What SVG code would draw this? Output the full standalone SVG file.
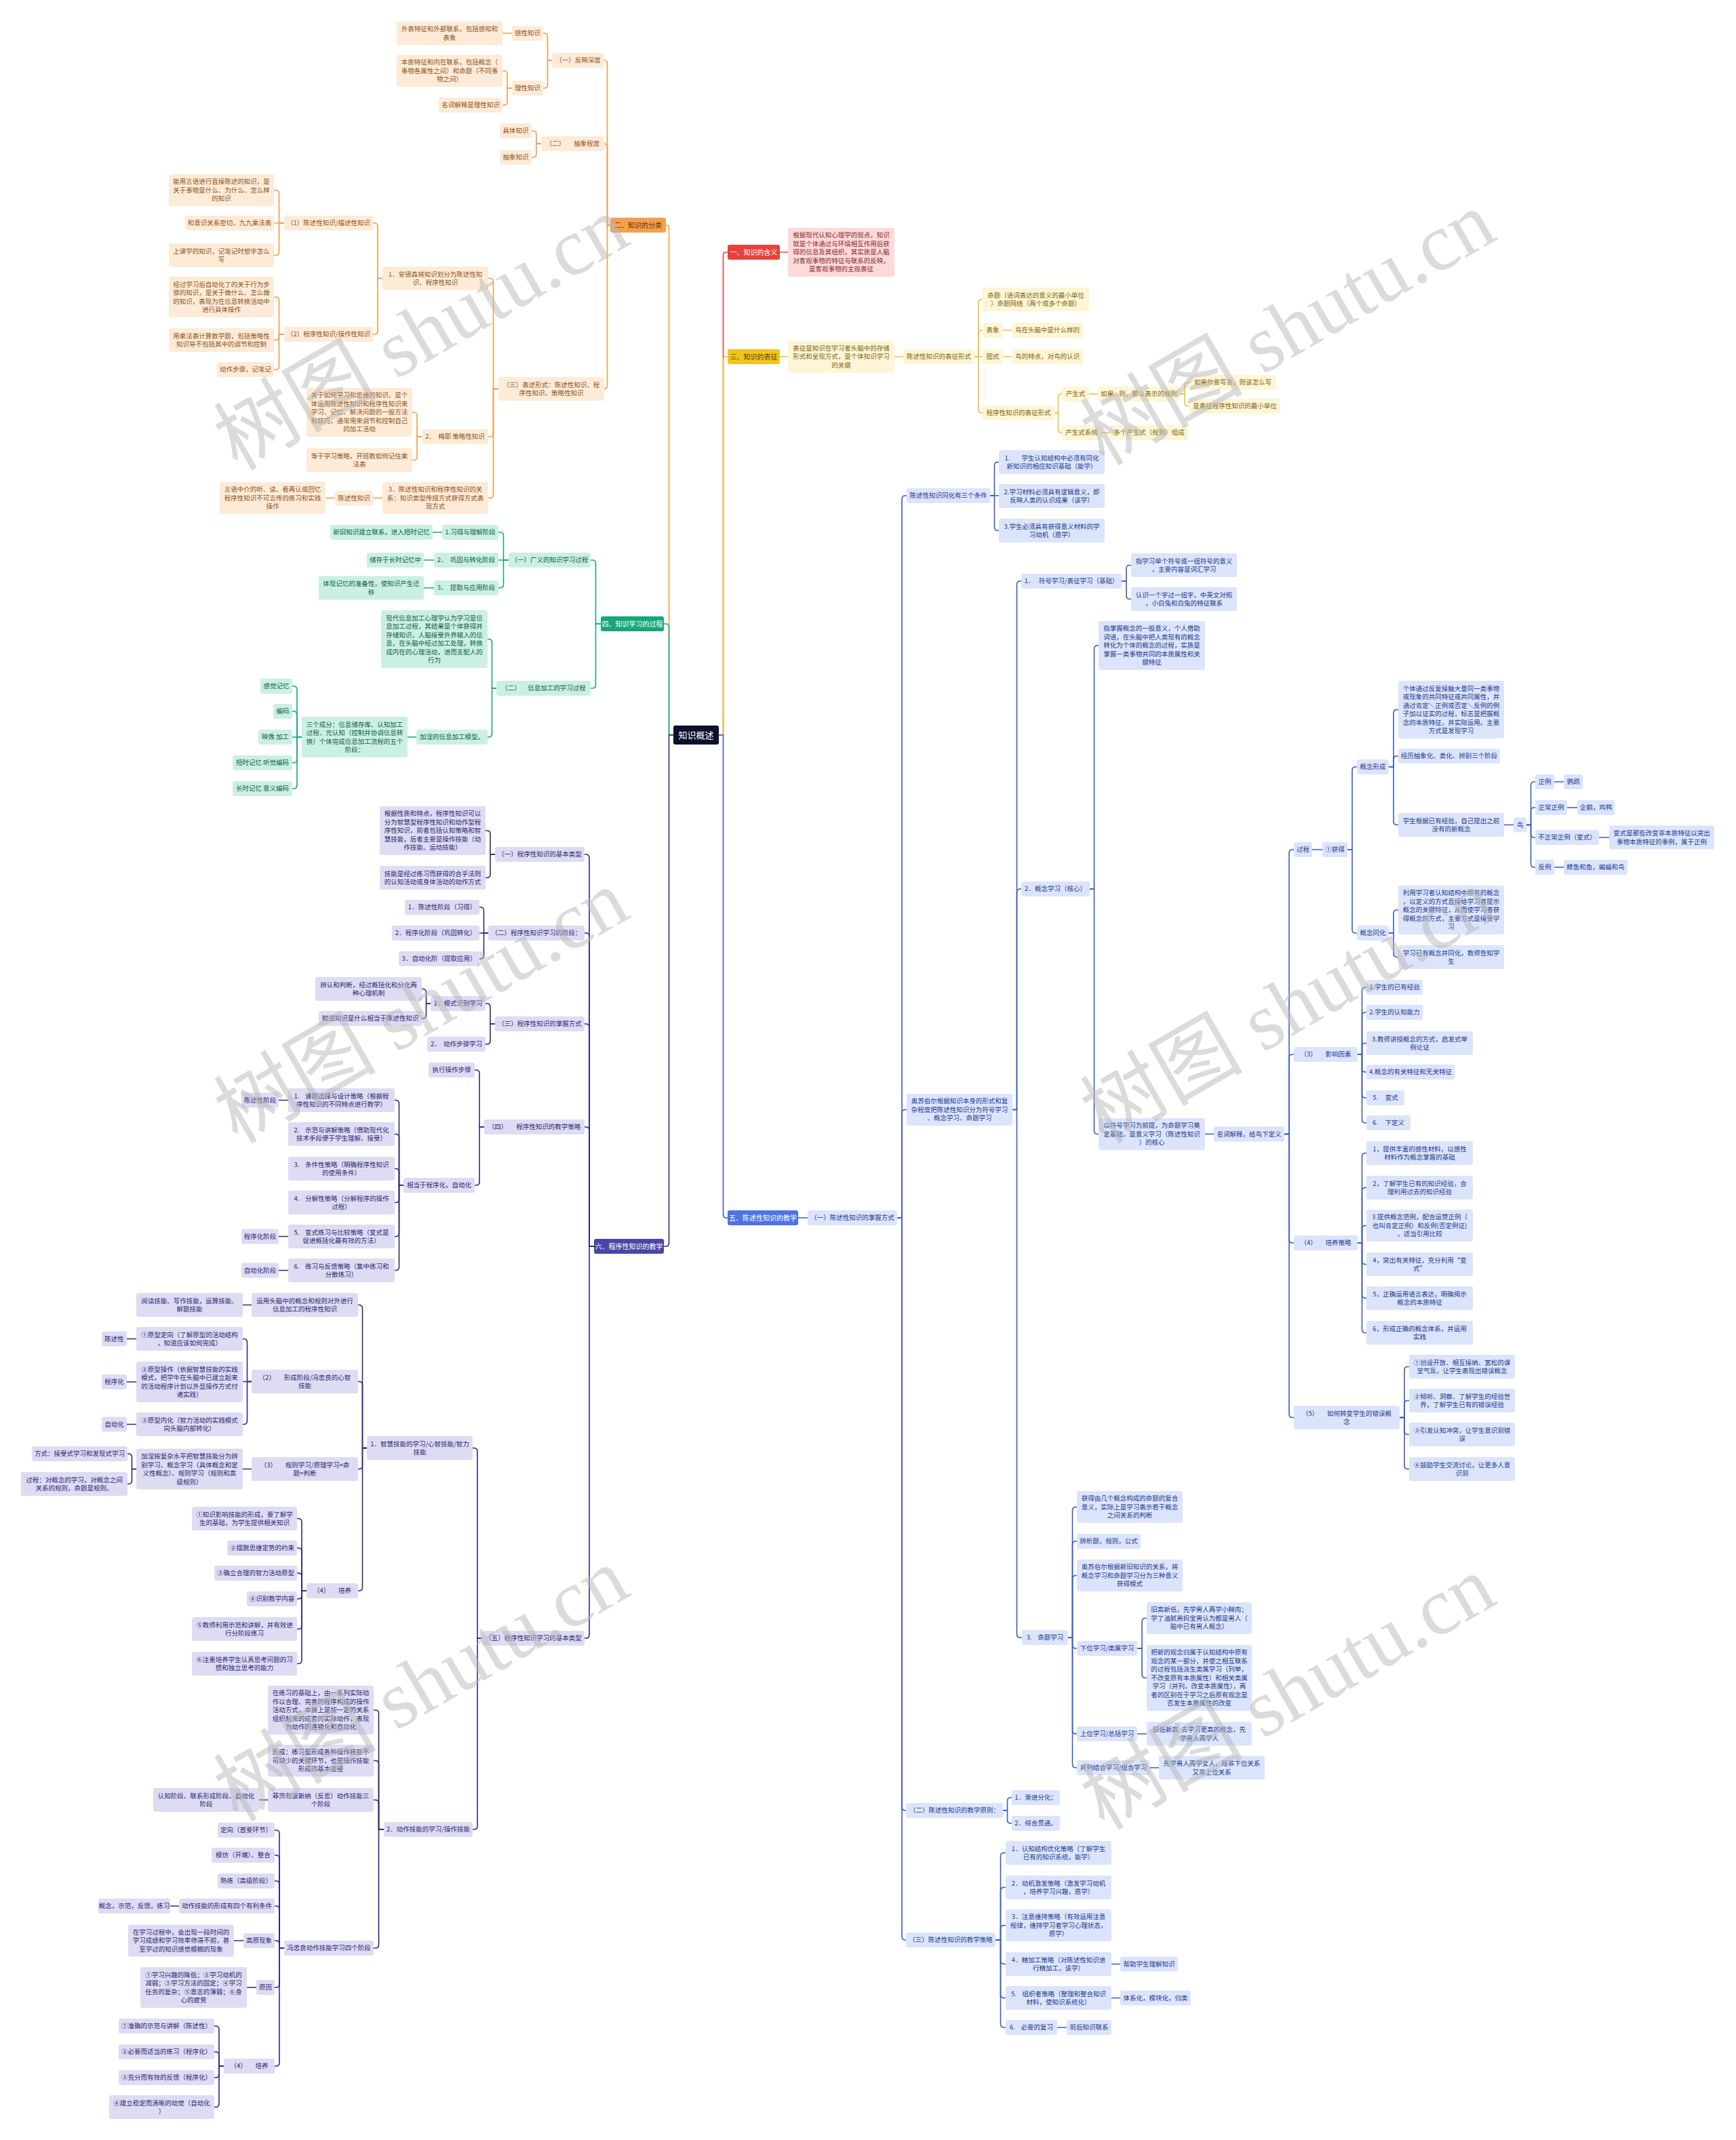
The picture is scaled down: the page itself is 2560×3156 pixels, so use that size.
<svg xmlns="http://www.w3.org/2000/svg" width="2560" height="3156" viewBox="0 0 2560 3156">
<style>
text{font-family:'Noto Sans CJK SC','Noto Sans',sans-serif;font-size:9.5px;text-anchor:middle}
rect{rx:3px;ry:3px}
#connectors path{fill:none;stroke-width:1.6;stroke-linecap:round;stroke-linejoin:round}
.lo path{stroke:#f19c45}.lg path{stroke:#1aa57b}.lr path{stroke:#e8413c}.ly path{stroke:#edc232}.lb path{stroke:#3a5cc8}.lp path{stroke:#2e2b7a}.lk path{stroke:#2e3a8a}
.o rect{fill:#fdebd8}.o text{fill:#8f5320}
.g rect{fill:#cbf0e1}.g text{fill:#0e6148}
.y rect{fill:#fdf5d6}.y text{fill:#806510}
.r rect{fill:#fdd9da}.r text{fill:#8b2a2a}
.b rect{fill:#dce4fb}.b text{fill:#213a8f}
.p rect{fill:#dddcf3}.p text{fill:#2c2872}
.m text{font-size:10px}
.mo rect{fill:#f5a04c}.mo text{fill:#5e2f06}
.mg rect{fill:#17a67a}.mg text{fill:#fff}
.mr rect{fill:#e8413c}.mr text{fill:#fff}
.my rect{fill:#f2c420}.my text{fill:#5a4500}
.mb rect{fill:#4d72e6}.mb text{fill:#fff}
.mp rect{fill:#4a45a6}.mp text{fill:#fff}
.root rect{fill:#0c0f2d}.root text{fill:#fff;font-size:13px}
.wm text{font-family:'Liberation Serif','Noto Sans CJK SC',serif;font-size:120px;text-anchor:start;fill:#b8b8b8;opacity:.5}
</style>
<rect x="0" y="0" width="2560" height="3156" style="fill:#fff;rx:0;ry:0"/>
<g id="connectors">
<g class="lk">
<path d="M993 1084 H986.5 V336.5 Q986.5 332 982 332" style="stroke:#f19c45"/>
<path d="M993 1084 H986.5 V924.5 Q986.5 920 982 920 H979" style="stroke:#1aa57b"/>
<path d="M993 1084 H986.5 V1833.5 Q986.5 1838 982 1838 H979" style="stroke:#2e2b7a"/>
<path d="M1060 1084 H1066.5 V376.5 Q1066.5 372 1071 372 H1073" style="stroke:#e8413c"/>
<path d="M1060 1084 H1066.5 V530.5 Q1066.5 526 1071 526 H1073" style="stroke:#edc232"/>
<path d="M1060 1084 H1066.5 V1791.5 Q1066.5 1796 1071 1796 H1073" style="stroke:#3a5cc8"/>
</g>
<g class="lo">
<path d="M900 332 H895.5 V94 Q895.5 89 891 89"/>
<path d="M900 332 H895.5 V217 Q895.5 212 891 212"/>
<path d="M900 332 H895.5 V568.5 Q895.5 573.5 891 573.5"/>
<path d="M814 89 H807.5 V54 Q807.5 49 802.5 49 H801"/>
<path d="M814 89 H807.5 V125 Q807.5 130 802.5 130 H801"/>
<path d="M755 49 H741"/>
<path d="M755 130 H748 V109.5 Q748 104.5 743 104.5 H741"/>
<path d="M755 130 H748 V150 Q748 155 743 155 H741"/>
<path d="M798 212 H791 V198 Q791 193 786 193 H784"/>
<path d="M798 212 H791 V227 Q791 232 786 232 H784"/>
<path d="M735 573.5 H727.5 V415.5 Q727.5 410.5 722.5 410.5 H720"/>
<path d="M735 573.5 H727.5 V639 Q727.5 644 722.5 644 H720"/>
<path d="M735 573.5 H727.5 V729.5 Q727.5 734.5 722.5 734.5 H720"/>
<path d="M564 410.5 H557 V334 Q557 329 552 329 H550"/>
<path d="M564 410.5 H557 V488 Q557 493 552 493 H550"/>
<path d="M419 329 H411.5 V285.5 Q411.5 280.5 406.5 280.5 H404"/>
<path d="M419 329 H404"/>
<path d="M419 329 H411.5 V371.5 Q411.5 376.5 406.5 376.5 H404"/>
<path d="M419 493 H411.5 V443 Q411.5 438 406.5 438 H404"/>
<path d="M419 493 H411.5 V496.5 Q411.5 501.5 406.5 501.5 H404"/>
<path d="M419 493 H411.5 V540 Q411.5 545 406.5 545 H404"/>
<path d="M622 644 H615 V613 Q615 608 610 608 H608"/>
<path d="M622 644 H615 V673.5 Q615 678.5 610 678.5 H608"/>
<path d="M564 734.5 H550"/>
<path d="M494 734.5 H480"/>
</g>
<g class="lg">
<path d="M886 920 H878.5 V831 Q878.5 826 873.5 826 H871"/>
<path d="M886 920 H878.5 V1010 Q878.5 1015 873.5 1015 H871"/>
<path d="M750 826 H742.5 V790 Q742.5 785 737.5 785 H735"/>
<path d="M750 826 H735"/>
<path d="M750 826 H742.5 V862 Q742.5 867 737.5 867 H735"/>
<path d="M652 785 H638"/>
<path d="M640 826 H625"/>
<path d="M640 867 H625"/>
<path d="M732 1015 H725.5 V947.5 Q725.5 942.5 720.5 942.5 H719"/>
<path d="M732 1015 H725.5 V1082 Q725.5 1087 720.5 1087 H719"/>
<path d="M614 1087 H601"/>
<path d="M445 1087 H438 V1017 Q438 1012 433 1012 H431"/>
<path d="M445 1087 H438 V1054 Q438 1049 433 1049 H431"/>
<path d="M445 1087 H431"/>
<path d="M445 1087 H438 V1120 Q438 1125 433 1125 H431"/>
<path d="M445 1087 H438 V1158 Q438 1163 433 1163 H431"/>
</g>
<g class="lr">
<path d="M1150 372 H1162"/>
</g>
<g class="ly">
<path d="M1150 526 H1162"/>
<path d="M1319 526 H1332"/>
<path d="M1437 526 H1443 V446.5 Q1443 441.5 1448 441.5 H1449"/>
<path d="M1437 526 H1443 V492 Q1443 487 1448 487 H1449"/>
<path d="M1437 526 H1449"/>
<path d="M1437 526 H1443 V604 Q1443 609 1448 609 H1449"/>
<path d="M1479 487 H1492"/>
<path d="M1479 526 H1492"/>
<path d="M1555 609 H1560.5 V586 Q1560.5 581 1565.5 581 H1566"/>
<path d="M1555 609 H1560.5 V633 Q1560.5 638 1565.5 638 H1566"/>
<path d="M1606 581 H1619"/>
<path d="M1740 581 H1747 V569 Q1747 564 1752 564 H1754"/>
<path d="M1740 581 H1747 V594 Q1747 599 1752 599 H1754"/>
<path d="M1624 638 H1637"/>
</g>
<g class="lp">
<path d="M876 1838 H869 V1265 Q869 1260 864 1260 H862"/>
<path d="M876 1838 H869 V1381 Q869 1376 864 1376 H862"/>
<path d="M876 1838 H869 V1515 Q869 1510 864 1510 H862"/>
<path d="M876 1838 H869 V1667 Q869 1662 864 1662 H862"/>
<path d="M876 1838 H869 V2411 Q869 2416 864 2416 H862"/>
<path d="M730 1260 H723 V1230 Q723 1225 718 1225 H716"/>
<path d="M730 1260 H723 V1289.5 Q723 1294.5 718 1294.5 H716"/>
<path d="M720 1376 H713.5 V1343 Q713.5 1338 708.5 1338 H707"/>
<path d="M720 1376 H707"/>
<path d="M720 1376 H713.5 V1409 Q713.5 1414 708.5 1414 H707"/>
<path d="M730 1510 H723 V1485 Q723 1480 718 1480 H716"/>
<path d="M730 1510 H723 V1535 Q723 1540 718 1540 H716"/>
<path d="M635 1480 H628.5 V1463.5 Q628.5 1458.5 623.5 1458.5 H622"/>
<path d="M635 1480 H628.5 V1497 Q628.5 1502 623.5 1502 H622"/>
<path d="M714 1662 H707 V1583 Q707 1578 702 1578 H700"/>
<path d="M714 1662 H707 V1743 Q707 1748 702 1748 H700"/>
<path d="M595 1748 H588.5 V1627.5 Q588.5 1622.5 583.5 1622.5 H582"/>
<path d="M595 1748 H588.5 V1677.5 Q588.5 1672.5 583.5 1672.5 H582"/>
<path d="M595 1748 H588.5 V1728.5 Q588.5 1723.5 583.5 1723.5 H582"/>
<path d="M595 1748 H588.5 V1768.5 Q588.5 1773.5 583.5 1773.5 H582"/>
<path d="M595 1748 H588.5 V1818.5 Q588.5 1823.5 583.5 1823.5 H582"/>
<path d="M595 1748 H588.5 V1868.5 Q588.5 1873.5 583.5 1873.5 H582"/>
<path d="M425 1622.5 H411"/>
<path d="M425 1823.5 H411"/>
<path d="M425 1873.5 H411"/>
<path d="M711 2416 H704 V2140.5 Q704 2135.5 699 2135.5 H697"/>
<path d="M711 2416 H704 V2693 Q704 2698 699 2698 H697"/>
<path d="M541 2135.5 H534.5 V1929.5 Q534.5 1924.5 529.5 1924.5 H528"/>
<path d="M541 2135.5 H534.5 V2042.5 Q534.5 2037.5 529.5 2037.5 H528"/>
<path d="M541 2135.5 H534.5 V2161.5 Q534.5 2166.5 529.5 2166.5 H528"/>
<path d="M541 2135.5 H534.5 V2341 Q534.5 2346 529.5 2346 H528"/>
<path d="M371 1924.5 H358"/>
<path d="M371 2037.5 H364.5 V1979.5 Q364.5 1974.5 359.5 1974.5 H358"/>
<path d="M371 2037.5 H358"/>
<path d="M371 2037.5 H364.5 V2095.5 Q364.5 2100.5 359.5 2100.5 H358"/>
<path d="M201 1974.5 H187"/>
<path d="M201 2038 H187"/>
<path d="M201 2100.5 H187"/>
<path d="M371 2166.5 H358"/>
<path d="M201 2166.5 H194.5 V2149 Q194.5 2144 189.5 2144 H188"/>
<path d="M201 2166.5 H194.5 V2183.5 Q194.5 2188.5 189.5 2188.5 H188"/>
<path d="M452 2346 H445 V2244.5 Q445 2239.5 440 2239.5 H438"/>
<path d="M452 2346 H445 V2288 Q445 2283 440 2283 H438"/>
<path d="M452 2346 H445 V2325 Q445 2320 440 2320 H438"/>
<path d="M452 2346 H445 V2353 Q445 2358 440 2358 H438"/>
<path d="M452 2346 H445 V2397.5 Q445 2402.5 440 2402.5 H438"/>
<path d="M452 2346 H445 V2448.5 Q445 2453.5 440 2453.5 H438"/>
<path d="M566 2698 H558.5 V2527 Q558.5 2522 553.5 2522 H551"/>
<path d="M566 2698 H558.5 V2601.5 Q558.5 2596.5 553.5 2596.5 H551"/>
<path d="M566 2698 H558.5 V2659.5 Q558.5 2654.5 553.5 2654.5 H551"/>
<path d="M566 2698 H558.5 V2868 Q558.5 2873 553.5 2873 H551"/>
<path d="M395 2654.5 H382"/>
<path d="M419 2873 H412 V2704 Q412 2699 407 2699 H405"/>
<path d="M419 2873 H412 V2741 Q412 2736 407 2736 H405"/>
<path d="M419 2873 H412 V2779 Q412 2774 407 2774 H405"/>
<path d="M419 2873 H412 V2816 Q412 2811 407 2811 H405"/>
<path d="M419 2873 H412 V2867 Q412 2862 407 2862 H405"/>
<path d="M419 2873 H412 V2926 Q412 2931 407 2931 H405"/>
<path d="M419 2873 H412 V3042 Q412 3047 407 3047 H405"/>
<path d="M264 2811 H251"/>
<path d="M359 2862 H345"/>
<path d="M378 2931 H364"/>
<path d="M330 3047 H323 V2993 Q323 2988 318 2988 H316"/>
<path d="M330 3047 H323 V3031 Q323 3026 318 3026 H316"/>
<path d="M330 3047 H323 V3059 Q323 3064 318 3064 H316"/>
<path d="M330 3047 H323 V3102.5 Q323 3107.5 318 3107.5 H316"/>
</g>
<g class="lb">
<path d="M1177 1796 H1191"/>
<path d="M1323 1796 H1330 V736 Q1330 731 1335 731 H1337"/>
<path d="M1323 1796 H1330 V1641.5 Q1330 1636.5 1335 1636.5 H1337"/>
<path d="M1323 1796 H1330 V2665 Q1330 2670 1335 2670 H1336"/>
<path d="M1323 1796 H1330 V2856 Q1330 2861 1335 2861 H1336"/>
<path d="M1460 731 H1466.5 V686.5 Q1466.5 681.5 1471.5 681.5 H1473"/>
<path d="M1460 731 H1473"/>
<path d="M1460 731 H1466.5 V777.5 Q1466.5 782.5 1471.5 782.5 H1473"/>
<path d="M1493 1636.5 H1499.5 V862 Q1499.5 857 1504.5 857 H1506"/>
<path d="M1493 1636.5 H1499.5 V1316 Q1499.5 1311 1504.5 1311 H1506"/>
<path d="M1493 1636.5 H1499.5 V2410 Q1499.5 2415 1504.5 2415 H1507"/>
<path d="M1654 857 H1661 V838.5 Q1661 833.5 1666 833.5 H1668"/>
<path d="M1654 857 H1661 V878.5 Q1661 883.5 1666 883.5 H1668"/>
<path d="M1607 1311 H1613.5 V957 Q1613.5 952 1618.5 952 H1620"/>
<path d="M1607 1311 H1613.5 V1667.5 Q1613.5 1672.5 1618.5 1672.5 H1620"/>
<path d="M1777 1672.5 H1790"/>
<path d="M1894 1672.5 H1901 V1258 Q1901 1253 1906 1253 H1908"/>
<path d="M1894 1672.5 H1901 V1560 Q1901 1555 1906 1555 H1908"/>
<path d="M1894 1672.5 H1901 V1828 Q1901 1833 1906 1833 H1908"/>
<path d="M1894 1672.5 H1901 V2085.5 Q1901 2090.5 1906 2090.5 H1908"/>
<path d="M1935 1253 H1950"/>
<path d="M1987 1253 H1994 V1136 Q1994 1131 1999 1131 H2001"/>
<path d="M1987 1253 H1994 V1371 Q1994 1376 1999 1376 H2001"/>
<path d="M2048 1131 H2055 V1051.5 Q2055 1046.5 2060 1046.5 H2062"/>
<path d="M2048 1131 H2055 V1120 Q2055 1115 2060 1115 H2062"/>
<path d="M2048 1131 H2055 V1211.5 Q2055 1216.5 2060 1216.5 H2062"/>
<path d="M2218 1216.5 H2232"/>
<path d="M2251 1216.5 H2257.5 V1158 Q2257.5 1153 2262.5 1153 H2264"/>
<path d="M2251 1216.5 H2257.5 V1196 Q2257.5 1191 2262.5 1191 H2264"/>
<path d="M2251 1216.5 H2257.5 V1230 Q2257.5 1235 2262.5 1235 H2264"/>
<path d="M2251 1216.5 H2257.5 V1274 Q2257.5 1279 2262.5 1279 H2264"/>
<path d="M2292 1153 H2306"/>
<path d="M2311 1191 H2326"/>
<path d="M2358 1235 H2373"/>
<path d="M2292 1279 H2306"/>
<path d="M2048 1376 H2055 V1347 Q2055 1342 2060 1342 H2062"/>
<path d="M2048 1376 H2055 V1406.5 Q2055 1411.5 2060 1411.5 H2062"/>
<path d="M2002 1555 H2008.5 V1461 Q2008.5 1456 2013.5 1456 H2015"/>
<path d="M2002 1555 H2008.5 V1498 Q2008.5 1493 2013.5 1493 H2015"/>
<path d="M2002 1555 H2008.5 V1543.5 Q2008.5 1538.5 2013.5 1538.5 H2015"/>
<path d="M2002 1555 H2008.5 V1576 Q2008.5 1581 2013.5 1581 H2015"/>
<path d="M2002 1555 H2008.5 V1614 Q2008.5 1619 2013.5 1619 H2015"/>
<path d="M2002 1555 H2008.5 V1651 Q2008.5 1656 2013.5 1656 H2015"/>
<path d="M2002 1833 H2008.5 V1705.5 Q2008.5 1700.5 2013.5 1700.5 H2015"/>
<path d="M2002 1833 H2008.5 V1756.5 Q2008.5 1751.5 2013.5 1751.5 H2015"/>
<path d="M2002 1833 H2008.5 V1812.5 Q2008.5 1807.5 2013.5 1807.5 H2015"/>
<path d="M2002 1833 H2008.5 V1859.5 Q2008.5 1864.5 2013.5 1864.5 H2015"/>
<path d="M2002 1833 H2008.5 V1909.5 Q2008.5 1914.5 2013.5 1914.5 H2015"/>
<path d="M2002 1833 H2008.5 V1960.5 Q2008.5 1965.5 2013.5 1965.5 H2015"/>
<path d="M2064 2090.5 H2071 V2020.5 Q2071 2015.5 2076 2015.5 H2078"/>
<path d="M2064 2090.5 H2071 V2070.5 Q2071 2065.5 2076 2065.5 H2078"/>
<path d="M2064 2090.5 H2071 V2110.5 Q2071 2115.5 2076 2115.5 H2078"/>
<path d="M2064 2090.5 H2071 V2161.5 Q2071 2166.5 2076 2166.5 H2078"/>
<path d="M1575 2415 H1581.5 V2227.5 Q1581.5 2222.5 1586.5 2222.5 H1588"/>
<path d="M1575 2415 H1581.5 V2278 Q1581.5 2273 1586.5 2273 H1588"/>
<path d="M1575 2415 H1581.5 V2328.5 Q1581.5 2323.5 1586.5 2323.5 H1588"/>
<path d="M1575 2415 H1581.5 V2426 Q1581.5 2431 1586.5 2431 H1588"/>
<path d="M1575 2415 H1581.5 V2552 Q1581.5 2557 1586.5 2557 H1588"/>
<path d="M1575 2415 H1581.5 V2602 Q1581.5 2607 1586.5 2607 H1588"/>
<path d="M1677 2431 H1684 V2391.5 Q1684 2386.5 1689 2386.5 H1691"/>
<path d="M1677 2431 H1684 V2469.5 Q1684 2474.5 1689 2474.5 H1691"/>
<path d="M1677 2557 H1691"/>
<path d="M1696 2607 H1709"/>
<path d="M1479 2670 H1485.5 V2656 Q1485.5 2651 1490.5 2651 H1492"/>
<path d="M1479 2670 H1485.5 V2684 Q1485.5 2689 1490.5 2689 H1492"/>
<path d="M1468 2861 H1475.5 V2737.5 Q1475.5 2732.5 1480.5 2732.5 H1483"/>
<path d="M1468 2861 H1475.5 V2788.5 Q1475.5 2783.5 1480.5 2783.5 H1483"/>
<path d="M1468 2861 H1475.5 V2844.5 Q1475.5 2839.5 1480.5 2839.5 H1483"/>
<path d="M1468 2861 H1475.5 V2891.5 Q1475.5 2896.5 1480.5 2896.5 H1483"/>
<path d="M1468 2861 H1475.5 V2941.5 Q1475.5 2946.5 1480.5 2946.5 H1483"/>
<path d="M1468 2861 H1475.5 V2985 Q1475.5 2990 1480.5 2990 H1483"/>
<path d="M1639 2896.5 H1652"/>
<path d="M1639 2946.5 H1652"/>
<path d="M1559 2990 H1573"/>
</g>
</g>

<g id="root" class="root"><rect x="993" y="1070" width="67" height="28"/><text x="1026.5" y="1088.6">知识概述</text></g>

<g id="branch-red">
<g id="r0" class="mr m"><rect x="1073" y="361" width="77" height="22"/><text x="1111.5" y="375.5">一、知识的含义</text></g>
<g id="r1" class="r"><rect x="1162" y="336" width="157" height="72"/><text x="1240.5" y="350.4">根据现代认知心理学的观点，知识<tspan x="1240.5" dy="12.5">就是个体通过与环境相互作用后获</tspan><tspan x="1240.5" dy="12.5">得的信息及其组织，其实质是人脑</tspan><tspan x="1240.5" dy="12.5">对客观事物的特征与联系的反映，</tspan><tspan x="1240.5" dy="12.5">是客观事物的主观表征</tspan></text></g>
</g>

<g id="branch-yellow">
<g id="y0" class="my m"><rect x="1073" y="515" width="77" height="22"/><text x="1111.5" y="529.5">三、知识的表征</text></g>
<g id="y1" class="y"><rect x="1162" y="502.5" width="157" height="47"/><text x="1240.5" y="516.9">表征是知识在学习者头脑中的存储<tspan x="1240.5" dy="12.5">形式和呈现方式，是个体知识学习</tspan><tspan x="1240.5" dy="12.5">的关键</tspan></text></g>
<g id="y2" class="y"><rect x="1332" y="515" width="105" height="22"/><text x="1384.5" y="529.4">陈述性知识的表征形式</text></g>
<g id="y3" class="y"><rect x="1449" y="424" width="157" height="35"/><text x="1527.5" y="438.65">命题（语词表达的意义的最小单位<tspan x="1527.5" dy="12.5">）命题网络（两个或多个命题）</tspan></text></g>
<g id="y4" class="y"><rect x="1449" y="476" width="30" height="22"/><text x="1464" y="490.4">表象</text></g>
<g id="y5" class="y"><rect x="1492" y="476" width="105" height="22"/><text x="1544.5" y="490.4">鸟在头脑中是什么样的</text></g>
<g id="y6" class="y"><rect x="1449" y="515" width="30" height="22"/><text x="1464" y="529.4">图式</text></g>
<g id="y7" class="y"><rect x="1492" y="515" width="105" height="22"/><text x="1544.5" y="529.4">鸟的特点，对鸟的认识</text></g>
<g id="y8" class="y"><rect x="1449" y="598" width="106" height="22"/><text x="1502" y="612.4">程序性知识的表征形式</text></g>
<g id="y9" class="y"><rect x="1566" y="570" width="40" height="22"/><text x="1586" y="584.4">产生式</text></g>
<g id="y10" class="y"><rect x="1619" y="570" width="121" height="22"/><text x="1679.5" y="584.4">如果...则，那么表示的规则</text></g>
<g id="y11" class="y"><rect x="1754" y="553" width="128" height="22"/><text x="1818" y="567.4">如果你要写去，则该怎么写</text></g>
<g id="y12" class="y"><rect x="1754" y="588" width="134" height="22"/><text x="1821" y="602.4">是表征程序性知识的最小单位</text></g>
<g id="y13" class="y"><rect x="1566" y="627" width="58" height="22"/><text x="1595" y="641.4">产生式系统</text></g>
<g id="y14" class="y"><rect x="1637" y="627" width="115" height="22"/><text x="1694.5" y="641.4">多个产生式（规则）组成</text></g>
</g>

<g id="branch-orange">
<g id="o0" class="mo m"><rect x="900" y="321" width="82" height="22"/><text x="941" y="335.5">二、知识的分类</text></g>
<g id="o1" class="o"><rect x="814" y="78" width="77" height="22"/><text x="852.5" y="92.4">（一）反映深度</text></g>
<g id="o2" class="o"><rect x="755" y="38" width="46" height="22"/><text x="778" y="52.4">感性知识</text></g>
<g id="o3" class="o"><rect x="585" y="31.5" width="156" height="35"/><text x="663" y="46.15">外表特征和外部联系，包括感知和<tspan x="663" dy="12.5">表象</tspan></text></g>
<g id="o4" class="o"><rect x="755" y="119" width="46" height="22"/><text x="778" y="133.4">理性知识</text></g>
<g id="o5" class="o"><rect x="585" y="81" width="156" height="47"/><text x="663" y="95.4">本质特征和内在联系，包括概念（<tspan x="663" dy="12.5">事物各属性之间）和命题（不同事</tspan><tspan x="663" dy="12.5">物之间）</tspan></text></g>
<g id="o6" class="o"><rect x="647" y="144" width="94" height="22"/><text x="694" y="158.4">名词解释是理性知识</text></g>
<g id="o7" class="o"><rect x="798" y="201" width="93" height="22"/><text x="844.5" y="215.4">（二）&#160;&#160;&#160;&#160;&#160;&#160;抽象程度</text></g>
<g id="o8" class="o"><rect x="737" y="182" width="47" height="22"/><text x="760.5" y="196.4">具体知识</text></g>
<g id="o9" class="o"><rect x="737" y="221" width="47" height="22"/><text x="760.5" y="235.4">抽象知识</text></g>
<g id="o10" class="o"><rect x="735" y="556" width="156" height="35"/><text x="813" y="570.65">（三）表述形式：陈述性知识、程<tspan x="813" dy="12.5">序性知识、策略性知识</tspan></text></g>
<g id="o11" class="o"><rect x="564" y="393" width="156" height="35"/><text x="642" y="407.65">1．安德森将知识划分为陈述性知<tspan x="642" dy="12.5">识、程序性知识</tspan></text></g>
<g id="o12" class="o"><rect x="419" y="318" width="131" height="22"/><text x="484.5" y="332.4">（1）陈述性知识/描述性知识</text></g>
<g id="o13" class="o"><rect x="249" y="257" width="155" height="47"/><text x="326.5" y="271.4">能用言语进行直接陈述的知识，是<tspan x="326.5" dy="12.5">关于事物是什么、为什么、怎么样</tspan><tspan x="326.5" dy="12.5">的知识</tspan></text></g>
<g id="o14" class="o"><rect x="273" y="318" width="131" height="22"/><text x="338.5" y="332.4">和意识关系密切，九九乘法表</text></g>
<g id="o15" class="o"><rect x="249" y="359" width="155" height="35"/><text x="326.5" y="373.65">上课学的知识，记笔记时想字怎么<tspan x="326.5" dy="12.5">写</tspan></text></g>
<g id="o16" class="o"><rect x="419" y="482" width="131" height="22"/><text x="484.5" y="496.4">（2）程序性知识/操作性知识</text></g>
<g id="o17" class="o"><rect x="249" y="408" width="155" height="60"/><text x="326.5" y="422.65">经过学习后自动化了的关于行为步<tspan x="326.5" dy="12.5">骤的知识，是关于做什么、怎么做</tspan><tspan x="326.5" dy="12.5">的知识，表现为在信息转换活动中</tspan><tspan x="326.5" dy="12.5">进行具体操作</tspan></text></g>
<g id="o18" class="o"><rect x="249" y="484" width="155" height="35"/><text x="326.5" y="498.65">用乘法表计算数学题，包括策略性<tspan x="326.5" dy="12.5">知识导不包括其中的调节和控制</tspan></text></g>
<g id="o19" class="o"><rect x="320" y="534" width="84" height="22"/><text x="362" y="548.4">动作步骤，记笔记</text></g>
<g id="o20" class="o"><rect x="622" y="633" width="98" height="22"/><text x="671" y="647.4">2．&#160;&#160;梅耶 策略性知识</text></g>
<g id="o21" class="o"><rect x="452" y="572" width="156" height="72"/><text x="530" y="586.4">关于如何学习和思维的知识，是个<tspan x="530" dy="12.5">体运用陈述性知识和程序性知识来</tspan><tspan x="530" dy="12.5">学习、记忆、解决问题的一般方法</tspan><tspan x="530" dy="12.5">和技巧，通常用来调节和控制自己</tspan><tspan x="530" dy="12.5">的加工活动</tspan></text></g>
<g id="o22" class="o"><rect x="452" y="661" width="156" height="35"/><text x="530" y="675.65">等于学习策略，开班教如何记住乘<tspan x="530" dy="12.5">法表</tspan></text></g>
<g id="o23" class="o"><rect x="564" y="711" width="156" height="47"/><text x="642" y="725.4">3．陈述性知识和程序性知识的关<tspan x="642" dy="12.5">系：知识类型传授方式获得方式表</tspan><tspan x="642" dy="12.5">现方式</tspan></text></g>
<g id="o24" class="o"><rect x="494" y="723.5" width="56" height="22"/><text x="522" y="737.9">陈述性知识</text></g>
<g id="o25" class="o"><rect x="324" y="711" width="156" height="47"/><text x="402" y="725.4">言语中介的听、读、看再认或回忆<tspan x="402" dy="12.5">程序性知识不可言传的练习和实践</tspan><tspan x="402" dy="12.5">操作</tspan></text></g>
</g>

<g id="branch-green">
<g id="g0" class="mg m"><rect x="886" y="909" width="93" height="22"/><text x="932.5" y="923.5">四、知识学习的过程</text></g>
<g id="g1" class="g"><rect x="750" y="815" width="121" height="22"/><text x="810.5" y="829.4">（一）广义的知识学习过程</text></g>
<g id="g2" class="g"><rect x="652" y="774" width="83" height="22"/><text x="693.5" y="788.4">1.习得与理解阶段</text></g>
<g id="g3" class="g"><rect x="487" y="774" width="151" height="22"/><text x="562.5" y="788.4">新旧知识建立联系，进入短时记忆</text></g>
<g id="g4" class="g"><rect x="640" y="815" width="95" height="22"/><text x="687.5" y="829.4">2．&#160;&#160;巩固与转化阶段</text></g>
<g id="g5" class="g"><rect x="541" y="815" width="84" height="22"/><text x="583" y="829.4">储存于长时记忆中</text></g>
<g id="g6" class="g"><rect x="640" y="856" width="95" height="22"/><text x="687.5" y="870.4">3．&#160;&#160;提取与应用阶段</text></g>
<g id="g7" class="g"><rect x="470" y="849.5" width="155" height="35"/><text x="547.5" y="864.15">体现记忆的准备性，使知识产生迁<tspan x="547.5" dy="12.5">移</tspan></text></g>
<g id="g8" class="g"><rect x="732" y="1004" width="139" height="22"/><text x="801.5" y="1018.4">（二）&#160;&#160;&#160;&#160;&#160;信息加工的学习过程</text></g>
<g id="g9" class="g"><rect x="562" y="900" width="157" height="85"/><text x="640.5" y="914.65">现代信息加工心理学认为学习是信<tspan x="640.5" dy="12.5">息加工过程，其结果是个体获得并</tspan><tspan x="640.5" dy="12.5">存储知识，人脑接受外界输入的信</tspan><tspan x="640.5" dy="12.5">息，在头脑中经过加工处理，转换</tspan><tspan x="640.5" dy="12.5">成内在的心理活动，进而支配人的</tspan><tspan x="640.5" dy="12.5">行为</tspan></text></g>
<g id="g10" class="g"><rect x="614" y="1076" width="105" height="22"/><text x="666.5" y="1090.4">加涅的信息加工模型。</text></g>
<g id="g11" class="g"><rect x="445" y="1057" width="156" height="60"/><text x="523" y="1071.65">三个成分：信息储存库、认知加工<tspan x="523" dy="12.5">过程、元认知（控制并协调信息转</tspan><tspan x="523" dy="12.5">换）个体完成信息加工流程的五个</tspan><tspan x="523" dy="12.5">阶段：</tspan></text></g>
<g id="g12" class="g"><rect x="384" y="1001" width="47" height="22"/><text x="407.5" y="1015.4">感觉记忆</text></g>
<g id="g13" class="g"><rect x="403" y="1038" width="28" height="22"/><text x="417" y="1052.4">编码</text></g>
<g id="g14" class="g"><rect x="381" y="1076" width="50" height="22"/><text x="406" y="1090.4">映像 加工</text></g>
<g id="g15" class="g"><rect x="343" y="1114" width="88" height="22"/><text x="387" y="1128.4">短时记忆 听觉编码</text></g>
<g id="g16" class="g"><rect x="343" y="1152" width="88" height="22"/><text x="387" y="1166.4">长时记忆 意义编码</text></g>
</g>

<g id="branch-purple">
<g id="p0" class="mp m"><rect x="876" y="1827" width="103" height="22"/><text x="927.5" y="1841.5">六、程序性知识的教学</text></g>
<g id="p1" class="p"><rect x="730" y="1249" width="132" height="22"/><text x="796" y="1263.4">（一）程序性知识的基本类型</text></g>
<g id="p1a" class="p"><rect x="560" y="1189" width="156" height="72"/><text x="638" y="1203.4">根据性质和特点，程序性知识可以<tspan x="638" dy="12.5">分为智慧型程序性知识和动作型程</tspan><tspan x="638" dy="12.5">序性知识，前者包括认知策略和智</tspan><tspan x="638" dy="12.5">慧技能，后者主要是操作技能（动</tspan><tspan x="638" dy="12.5">作技能、运动技能）</tspan></text></g>
<g id="p1b" class="p"><rect x="560" y="1277" width="156" height="35"/><text x="638" y="1291.65">技能是经过练习而获得的合乎法则<tspan x="638" dy="12.5">的认知活动或身体活动的动作方式</tspan></text></g>
<g id="p2" class="p"><rect x="720" y="1365" width="142" height="22"/><text x="791" y="1379.4">（二）程序性知识学习的阶段：</text></g>
<g id="p2a" class="p"><rect x="597" y="1327" width="110" height="22"/><text x="652" y="1341.4">1．陈述性阶段（习得）</text></g>
<g id="p2b" class="p"><rect x="578" y="1365" width="129" height="22"/><text x="642.5" y="1379.4">2．程序化阶段（巩固转化）</text></g>
<g id="p2c" class="p"><rect x="588" y="1403" width="119" height="22"/><text x="647.5" y="1417.4">3．自动化阶（提取应用）</text></g>
<g id="p3" class="p"><rect x="730" y="1499" width="132" height="22"/><text x="796" y="1513.4">（三）程序性知识的掌握方式</text></g>
<g id="p3a" class="p"><rect x="635" y="1469" width="81" height="22"/><text x="675.5" y="1483.4">1．模式识别学习</text></g>
<g id="p3a1" class="p"><rect x="465" y="1441" width="157" height="35"/><text x="543.5" y="1455.65">辨认和判断，经过概括化和分化两<tspan x="543.5" dy="12.5">种心理机制</tspan></text></g>
<g id="p3a2" class="p"><rect x="470" y="1491" width="152" height="22"/><text x="546" y="1505.4">知道知识是什么相当于陈述性知识</text></g>
<g id="p3b" class="p"><rect x="630" y="1529" width="86" height="22"/><text x="673" y="1543.4">2．&#160;&#160;动作步骤学习</text></g>
<g id="p4" class="p"><rect x="714" y="1651" width="148" height="22"/><text x="788" y="1665.4">（四）&#160;&#160;&#160;&#160;&#160;&#160;程序性知识的教学策略</text></g>
<g id="p4a" class="p"><rect x="632" y="1567" width="68" height="22"/><text x="666" y="1581.4">执行操作步骤</text></g>
<g id="p4b" class="p"><rect x="595" y="1737" width="105" height="22"/><text x="647.5" y="1751.4">相当于程序化，自动化</text></g>
<g id="p4b1" class="p"><rect x="425" y="1605" width="157" height="35"/><text x="503.5" y="1619.65">1.&#160;&#160;&#160;&#160;课题选择与设计策略（根据程<tspan x="503.5" dy="12.5">序性知识的不同特点进行教学）</tspan></text></g>
<g id="p4b2" class="p"><rect x="425" y="1655" width="157" height="35"/><text x="503.5" y="1669.65">2.&#160;&#160;&#160;&#160;示范与讲解策略（借助现代化<tspan x="503.5" dy="12.5">技术手段便于学生理解、接受）</tspan></text></g>
<g id="p4b3" class="p"><rect x="425" y="1706" width="157" height="35"/><text x="503.5" y="1720.65">3.&#160;&#160;&#160;&#160;条件性策略（明确程序性知识<tspan x="503.5" dy="12.5">的使用条件）</tspan></text></g>
<g id="p4b4" class="p"><rect x="425" y="1756" width="157" height="35"/><text x="503.5" y="1770.65">4.&#160;&#160;&#160;&#160;分解性策略（分解程序的操作<tspan x="503.5" dy="12.5">过程）</tspan></text></g>
<g id="p4b5" class="p"><rect x="425" y="1806" width="157" height="35"/><text x="503.5" y="1820.65">5.&#160;&#160;&#160;&#160;变式练习与比较策略（变式是<tspan x="503.5" dy="12.5">促进概括化最有效的方法）</tspan></text></g>
<g id="p4b6" class="p"><rect x="425" y="1856" width="157" height="35"/><text x="503.5" y="1870.65">6.&#160;&#160;&#160;&#160;练习与反馈策略（集中练习和<tspan x="503.5" dy="12.5">分散练习）</tspan></text></g>
<g id="p4l1" class="p"><rect x="356" y="1611.5" width="55" height="22"/><text x="383.5" y="1625.9">陈述性阶段</text></g>
<g id="p4l2" class="p"><rect x="356" y="1812.5" width="55" height="22"/><text x="383.5" y="1826.9">程序化阶段</text></g>
<g id="p4l3" class="p"><rect x="356" y="1862.5" width="55" height="22"/><text x="383.5" y="1876.9">自动化阶段</text></g>
<g id="p5" class="p"><rect x="711" y="2405" width="151" height="22"/><text x="786.5" y="2419.4">（五）程序性知识学习的基本类型</text></g>
<g id="p5a" class="p"><rect x="541" y="2118" width="156" height="35"/><text x="619" y="2132.65">1．智慧技能的学习/心智技能/智力<tspan x="619" dy="12.5">技能</tspan></text></g>
<g id="p5a1" class="p"><rect x="371" y="1907" width="157" height="35"/><text x="449.5" y="1921.65">运用头脑中的概念和规则对外进行<tspan x="449.5" dy="12.5">信息加工的程序性知识</tspan></text></g>
<g id="p5a1l" class="p"><rect x="201" y="1907" width="157" height="35"/><text x="279.5" y="1921.65">阅读技能、写作技能，运算技能、<tspan x="279.5" dy="12.5">解题技能</tspan></text></g>
<g id="p5a2" class="p"><rect x="371" y="2020" width="157" height="35"/><text x="449.5" y="2034.65">（2）&#160;&#160;&#160;&#160;&#160;&#160;形成阶段/冯忠良的心智<tspan x="449.5" dy="12.5">技能</tspan></text></g>
<g id="p5a2a" class="p"><rect x="201" y="1957" width="157" height="35"/><text x="279.5" y="1971.65">①原型定向（了解原型的活动结构<tspan x="279.5" dy="12.5">，知道应该如何完成）</tspan></text></g>
<g id="p5a2b" class="p"><rect x="201" y="2008" width="157" height="60"/><text x="279.5" y="2022.65">②原型操作（依据智慧技能的实践<tspan x="279.5" dy="12.5">模式，把学牛在头脑中已建立起来</tspan><tspan x="279.5" dy="12.5">的活动程序计划以外显操作方式付</tspan><tspan x="279.5" dy="12.5">诸实践）</tspan></text></g>
<g id="p5a2c" class="p"><rect x="201" y="2083" width="157" height="35"/><text x="279.5" y="2097.65">③原型内化（智力活动的实践模式<tspan x="279.5" dy="12.5">向头脑内部转化）</tspan></text></g>
<g id="p5a2l1" class="p"><rect x="150" y="1963.5" width="37" height="22"/><text x="168.5" y="1977.9">陈述性</text></g>
<g id="p5a2l2" class="p"><rect x="150" y="2027" width="37" height="22"/><text x="168.5" y="2041.4">程序化</text></g>
<g id="p5a2l3" class="p"><rect x="150" y="2089.5" width="37" height="22"/><text x="168.5" y="2103.9">自动化</text></g>
<g id="p5a3" class="p"><rect x="371" y="2149" width="157" height="35"/><text x="449.5" y="2163.65">（3）&#160;&#160;&#160;&#160;&#160;&#160;规则学习/原理学习=命<tspan x="449.5" dy="12.5">题=判断</tspan></text></g>
<g id="p5a3a" class="p"><rect x="201" y="2136.5" width="157" height="60"/><text x="279.5" y="2151.15">加涅按复杂水平把智慧技能分为辨<tspan x="279.5" dy="12.5">别学习、概念学习（具体概念和定</tspan><tspan x="279.5" dy="12.5">义性概念）、规则学习（规则和高</tspan><tspan x="279.5" dy="12.5">级规则）</tspan></text></g>
<g id="p5a3b" class="p"><rect x="47" y="2133" width="141" height="22"/><text x="117.5" y="2147.4">方式：接受式学习和发现式学习</text></g>
<g id="p5a3c" class="p"><rect x="31" y="2171" width="157" height="35"/><text x="109.5" y="2185.65">过程：对概念的学习，对概念之间<tspan x="109.5" dy="12.5">关系的规则，命题是规则。</tspan></text></g>
<g id="p5a4" class="p"><rect x="452" y="2335" width="76" height="22"/><text x="490" y="2349.4">（4）&#160;&#160;&#160;&#160;&#160;&#160;培养</text></g>
<g id="p5a4a" class="p"><rect x="283" y="2222" width="155" height="35"/><text x="360.5" y="2236.65">①知识影响技能的形成，要了解学<tspan x="360.5" dy="12.5">生的基础，为学生提供相关知识</tspan></text></g>
<g id="p5a4b" class="p"><rect x="335" y="2272" width="103" height="22"/><text x="386.5" y="2286.4">②摆脱思维定势的约束</text></g>
<g id="p5a4c" class="p"><rect x="316" y="2309" width="122" height="22"/><text x="377" y="2323.4">③确立合理的智力活动原型</text></g>
<g id="p5a4d" class="p"><rect x="364" y="2347" width="74" height="22"/><text x="401" y="2361.4">④识别教学内容</text></g>
<g id="p5a4e" class="p"><rect x="283" y="2385" width="155" height="35"/><text x="360.5" y="2399.65">⑤教师利用示范和讲解，并有效进<tspan x="360.5" dy="12.5">行分阶段练习</tspan></text></g>
<g id="p5a4f" class="p"><rect x="283" y="2436" width="155" height="35"/><text x="360.5" y="2450.65">⑥注重培养学生认真思考问题的习<tspan x="360.5" dy="12.5">惯和独立思考的能力</tspan></text></g>
<g id="p5b" class="p"><rect x="566" y="2687" width="131" height="22"/><text x="631.5" y="2701.4">2．动作技能的学习/操作技能</text></g>
<g id="p5b1" class="p"><rect x="395" y="2486" width="156" height="72"/><text x="473" y="2500.4">在练习的基础上，由一系列实际动<tspan x="473" dy="12.5">作以合理、完善的程序构成的操作</tspan><tspan x="473" dy="12.5">活动方式，本质上是按一定的关系</tspan><tspan x="473" dy="12.5">组织起来的成套的实际动作，表现</tspan><tspan x="473" dy="12.5">为动作的连锁化和自动化</tspan></text></g>
<g id="p5b2" class="p"><rect x="395" y="2573" width="156" height="47"/><text x="473" y="2587.4">形成：练习是形成各种操作技能不<tspan x="473" dy="12.5">可缺少的关键环节，也是操作技能</tspan><tspan x="473" dy="12.5">形成的基本途径</tspan></text></g>
<g id="p5b3" class="p"><rect x="395" y="2637" width="156" height="35"/><text x="473" y="2651.65">菲茨和波斯纳（反思）动作技能三<tspan x="473" dy="12.5">个阶段</tspan></text></g>
<g id="p5b3l" class="p"><rect x="226" y="2637" width="156" height="35"/><text x="304" y="2651.65">认知阶段、联系形成阶段、自动化<tspan x="304" dy="12.5">阶段</tspan></text></g>
<g id="p5b4" class="p"><rect x="419" y="2862" width="132" height="22"/><text x="485" y="2876.4">冯忠良动作技能学习四个阶段</text></g>
<g id="p5b4a" class="p"><rect x="321" y="2688" width="84" height="22"/><text x="363" y="2702.4">定向（首要环节）</text></g>
<g id="p5b4b" class="p"><rect x="312" y="2725" width="93" height="22"/><text x="358.5" y="2739.4">模仿（开端）、整合</text></g>
<g id="p5b4c" class="p"><rect x="321" y="2763" width="84" height="22"/><text x="363" y="2777.4">熟练（高级阶段）</text></g>
<g id="p5b4d" class="p"><rect x="264" y="2800" width="141" height="22"/><text x="334.5" y="2814.4">动作技能的形成有四个有利条件</text></g>
<g id="p5b4d1" class="p"><rect x="145" y="2800" width="106" height="22"/><text x="198" y="2814.4">概念，示范，反馈，练习</text></g>
<g id="p5b4e" class="p"><rect x="359" y="2851" width="46" height="22"/><text x="382" y="2865.4">高原现象</text></g>
<g id="p5b4e1" class="p"><rect x="189" y="2838.5" width="156" height="47"/><text x="267" y="2852.9">在学习过程中，会出现一段时间的<tspan x="267" dy="12.5">学习成绩和学习效率停滞不前，甚</tspan><tspan x="267" dy="12.5">至学过的知识感觉模糊的现象</tspan></text></g>
<g id="p5b4f" class="p"><rect x="378" y="2920" width="27" height="22"/><text x="391.5" y="2934.4">原因</text></g>
<g id="p5b4f1" class="p"><rect x="207" y="2901" width="157" height="60"/><text x="285.5" y="2915.65">①学习兴趣的降低；②学习动机的<tspan x="285.5" dy="12.5">减弱；③学习方法的固定；④学习</tspan><tspan x="285.5" dy="12.5">任务的复杂；⑤意志的薄弱；⑥身</tspan><tspan x="285.5" dy="12.5">心的疲劳</tspan></text></g>
<g id="p5b4g" class="p"><rect x="330" y="3036" width="75" height="22"/><text x="367.5" y="3050.4">（4）&#160;&#160;&#160;&#160;&#160;&#160;培养</text></g>
<g id="p5b4g1" class="p"><rect x="175" y="2977" width="141" height="22"/><text x="245.5" y="2991.4">①准确的示范与讲解（陈述性）</text></g>
<g id="p5b4g2" class="p"><rect x="175" y="3015" width="141" height="22"/><text x="245.5" y="3029.4">②必要而适当的练习（程序化）</text></g>
<g id="p5b4g3" class="p"><rect x="175" y="3053" width="141" height="22"/><text x="245.5" y="3067.4">③充分而有效的反馈（程序化）</text></g>
<g id="p5b4g4" class="p"><rect x="161" y="3090" width="155" height="35"/><text x="238.5" y="3104.65">④建立稳定而清晰的动觉（自动化<tspan x="238.5" dy="12.5">）</tspan></text></g>
</g>

<g id="branch-blue">
<g id="b0" class="mb m"><rect x="1073" y="1785" width="104" height="22"/><text x="1125" y="1799.5">五、陈述性知识的教学</text></g>
<g id="b1" class="b"><rect x="1191" y="1785" width="132" height="22"/><text x="1257" y="1799.4">（一）陈述性知识的掌握方式</text></g>
<g id="b2" class="b"><rect x="1337" y="720" width="123" height="22"/><text x="1398.5" y="734.4">陈述性知识同化有三个条件</text></g>
<g id="b2a" class="b"><rect x="1473" y="664" width="156" height="35"/><text x="1551" y="678.65">1.&#160;&#160;&#160;&#160;&#160;&#160;&#160;&#160;学生认知结构中必须有同化<tspan x="1551" dy="12.5">新知识的相应知识基础（能学）</tspan></text></g>
<g id="b2b" class="b"><rect x="1473" y="714" width="156" height="35"/><text x="1551" y="728.65">2.学习材料必须具有逻辑意义，即<tspan x="1551" dy="12.5">反映人类的认识成果（该学）</tspan></text></g>
<g id="b2c" class="b"><rect x="1473" y="765" width="156" height="35"/><text x="1551" y="779.65">3.学生必须具有获得意义材料的学<tspan x="1551" dy="12.5">习动机（愿学）</tspan></text></g>
<g id="b3" class="b"><rect x="1337" y="1613" width="156" height="47"/><text x="1415" y="1627.4">奥苏伯尔根据知识本身的形式和复<tspan x="1415" dy="12.5">杂程度把陈述性知识分为符号学习</tspan><tspan x="1415" dy="12.5">、概念学习、命题学习</tspan></text></g>
<g id="b3a" class="b"><rect x="1506" y="846" width="148" height="22"/><text x="1580" y="860.4">1．&#160;&#160;&#160;符号学习/表征学习（基础）</text></g>
<g id="b3a1" class="b"><rect x="1668" y="816" width="156" height="35"/><text x="1746" y="830.65">指学习单个符号或一组符号的意义<tspan x="1746" dy="12.5">，主要内容是词汇学习</tspan></text></g>
<g id="b3a2" class="b"><rect x="1668" y="866" width="156" height="35"/><text x="1746" y="880.65">认识一个字过一组字，中英文对照<tspan x="1746" dy="12.5">，小白兔和白兔的特征联系</tspan></text></g>
<g id="b3b" class="b"><rect x="1506" y="1300" width="101" height="22"/><text x="1556.5" y="1314.4">2．概念学习（核心）</text></g>
<g id="b3b1" class="b"><rect x="1620" y="916" width="157" height="72"/><text x="1698.5" y="930.4">指掌握概念的一般意义，个人借助<tspan x="1698.5" dy="12.5">词语，在头脑中把人类现有的概念</tspan><tspan x="1698.5" dy="12.5">转化为个体的概念的过程，实质是</tspan><tspan x="1698.5" dy="12.5">掌握一类事物共同的本质属性和关</tspan><tspan x="1698.5" dy="12.5">键特征</tspan></text></g>
<g id="b3b2" class="b"><rect x="1620" y="1649" width="157" height="47"/><text x="1698.5" y="1663.4">以符号学习为前提，为命题学习奠<tspan x="1698.5" dy="12.5">定基础，是意义学习（陈述性知识</tspan><tspan x="1698.5" dy="12.5">）的核心</tspan></text></g>
<g id="b3b3" class="b"><rect x="1790" y="1661.5" width="104" height="22"/><text x="1842" y="1675.9">名词解释，给鸟下定义</text></g>
<g id="k0" class="b"><rect x="1908" y="1242" width="27" height="22"/><text x="1921.5" y="1256.4">过程</text></g>
<g id="k1" class="b"><rect x="1950" y="1242" width="37" height="22"/><text x="1968.5" y="1256.4">①获得</text></g>
<g id="k2" class="b"><rect x="2001" y="1120" width="47" height="22"/><text x="2024.5" y="1134.4">概念形成</text></g>
<g id="k2a" class="b"><rect x="2062" y="1004" width="156" height="85"/><text x="2140" y="1018.65">个体通过反复接触大量同一类事物<tspan x="2140" dy="12.5">或现象的共同特征或共同属性，并</tspan><tspan x="2140" dy="12.5">通过肯定＼正例或否定＼反例的例</tspan><tspan x="2140" dy="12.5">子加以证实的过程，标志是把握概</tspan><tspan x="2140" dy="12.5">念的本质特征，并实际运用。主要</tspan><tspan x="2140" dy="12.5">方式是发现学习</tspan></text></g>
<g id="k2b" class="b"><rect x="2062" y="1104" width="150" height="22"/><text x="2137" y="1118.4">经历抽象化、类化、辨别三个阶段</text></g>
<g id="k2c" class="b"><rect x="2062" y="1199" width="156" height="35"/><text x="2140" y="1213.65">学生根据已有经验，自己提出之前<tspan x="2140" dy="12.5">没有的新概念</tspan></text></g>
<g id="k2d" class="b"><rect x="2232" y="1205.5" width="19" height="22"/><text x="2241.5" y="1219.9">鸟</text></g>
<g id="k2e" class="b"><rect x="2264" y="1142" width="28" height="22"/><text x="2278" y="1156.4">正例</text></g>
<g id="k2e1" class="b"><rect x="2306" y="1142" width="28" height="22"/><text x="2320" y="1156.4">鹦鹉</text></g>
<g id="k2f" class="b"><rect x="2264" y="1180" width="47" height="22"/><text x="2287.5" y="1194.4">正常正例</text></g>
<g id="k2f1" class="b"><rect x="2326" y="1180" width="55" height="22"/><text x="2353.5" y="1194.4">企鹅，鸡鸭</text></g>
<g id="k2g" class="b"><rect x="2264" y="1224" width="94" height="22"/><text x="2311" y="1238.4">不正常正例（变式）</text></g>
<g id="k2g1" class="b"><rect x="2373" y="1217.5" width="155" height="35"/><text x="2450.5" y="1232.15">变式是那些改变非本质特征以突出<tspan x="2450.5" dy="12.5">事物本质特征的事例，属于正例</tspan></text></g>
<g id="k2h" class="b"><rect x="2264" y="1268" width="28" height="22"/><text x="2278" y="1282.4">反例</text></g>
<g id="k2h1" class="b"><rect x="2306" y="1268" width="94" height="22"/><text x="2353" y="1282.4">鲸鱼和鱼，蝙蝠和鸟</text></g>
<g id="k3" class="b"><rect x="2001" y="1365" width="47" height="22"/><text x="2024.5" y="1379.4">概念同化</text></g>
<g id="k3a" class="b"><rect x="2062" y="1306" width="156" height="72"/><text x="2140" y="1320.4">利用学习者认知结构中原有的概念<tspan x="2140" dy="12.5">，以定义的方式直接给学习者提示</tspan><tspan x="2140" dy="12.5">概念的关键特征，从而使学习者获</tspan><tspan x="2140" dy="12.5">得概念的方式，主要方式是接受学</tspan><tspan x="2140" dy="12.5">习</tspan></text></g>
<g id="k3b" class="b"><rect x="2062" y="1394" width="156" height="35"/><text x="2140" y="1408.65">学习已有概念并同化，教师告知学<tspan x="2140" dy="12.5">生</tspan></text></g>
<g id="k4" class="b"><rect x="1908" y="1544" width="94" height="22"/><text x="1955" y="1558.4">（3）&#160;&#160;&#160;&#160;&#160;&#160;影响因素</text></g>
<g id="k4a" class="b"><rect x="2015" y="1445" width="83" height="22"/><text x="2056.5" y="1459.4">1.学生的已有经验</text></g>
<g id="k4b" class="b"><rect x="2015" y="1482" width="83" height="22"/><text x="2056.5" y="1496.4">2.学生的认知能力</text></g>
<g id="k4c" class="b"><rect x="2015" y="1521" width="157" height="35"/><text x="2093.5" y="1535.65">3.教师讲授概念的方式，启发式举<tspan x="2093.5" dy="12.5">例论证</tspan></text></g>
<g id="k4d" class="b"><rect x="2015" y="1570" width="130" height="22"/><text x="2080" y="1584.4">4.概念的有关特征和无关特征</text></g>
<g id="k4e" class="b"><rect x="2015" y="1608" width="56" height="22"/><text x="2043" y="1622.4">5.&#160;&#160;&#160;&#160;&#160;变式</text></g>
<g id="k4f" class="b"><rect x="2015" y="1645" width="65" height="22"/><text x="2047.5" y="1659.4">6.&#160;&#160;&#160;&#160;&#160;下定义</text></g>
<g id="k5" class="b"><rect x="1908" y="1822" width="94" height="22"/><text x="1955" y="1836.4">（4）&#160;&#160;&#160;&#160;&#160;&#160;培养策略</text></g>
<g id="k5a" class="b"><rect x="2015" y="1683" width="157" height="35"/><text x="2093.5" y="1697.65">1，提供丰富的感性材料，以感性<tspan x="2093.5" dy="12.5">材料作为概念掌握的基础</tspan></text></g>
<g id="k5b" class="b"><rect x="2015" y="1734" width="157" height="35"/><text x="2093.5" y="1748.65">2，了解学生已有的知识经验，合<tspan x="2093.5" dy="12.5">理利用过去的知识经验</tspan></text></g>
<g id="k5c" class="b"><rect x="2015" y="1784" width="157" height="47"/><text x="2093.5" y="1798.4">3.提供概念范例，配合运营正例（<tspan x="2093.5" dy="12.5">也叫肯定正例）和反例(否定例证)</tspan><tspan x="2093.5" dy="12.5">，适当引用比较</tspan></text></g>
<g id="k5d" class="b"><rect x="2015" y="1847" width="157" height="35"/><text x="2093.5" y="1861.65">4，突出有关特征，充分利用“变<tspan x="2093.5" dy="12.5">式”</tspan></text></g>
<g id="k5e" class="b"><rect x="2015" y="1897" width="157" height="35"/><text x="2093.5" y="1911.65">5，正确运用语言表达，明确揭示<tspan x="2093.5" dy="12.5">概念的本质特征</tspan></text></g>
<g id="k5f" class="b"><rect x="2015" y="1948" width="157" height="35"/><text x="2093.5" y="1962.65">6，形成正确的概念体系，并运用<tspan x="2093.5" dy="12.5">实践</tspan></text></g>
<g id="k6" class="b"><rect x="1908" y="2073" width="156" height="35"/><text x="1986" y="2087.65">（5）&#160;&#160;&#160;&#160;&#160;&#160;如何转变学生的错误概<tspan x="1986" dy="12.5">念</tspan></text></g>
<g id="k6a" class="b"><rect x="2078" y="1998" width="156" height="35"/><text x="2156" y="2012.65">①创设开放、相互接纳、宽松的课<tspan x="2156" dy="12.5">堂气氛，让学生表现出错误概念</tspan></text></g>
<g id="k6b" class="b"><rect x="2078" y="2048" width="156" height="35"/><text x="2156" y="2062.65">②倾听、洞察、了解学生的经验世<tspan x="2156" dy="12.5">界，了解学生已有的错误经验</tspan></text></g>
<g id="k6c" class="b"><rect x="2078" y="2098" width="156" height="35"/><text x="2156" y="2112.65">③引发认知冲突，让学生意识到错<tspan x="2156" dy="12.5">误</tspan></text></g>
<g id="k6d" class="b"><rect x="2078" y="2149" width="156" height="35"/><text x="2156" y="2163.65">④鼓励学生交流讨论，让更多人意<tspan x="2156" dy="12.5">识到</tspan></text></g>
<g id="b3c" class="b"><rect x="1507" y="2404" width="68" height="22"/><text x="1541" y="2418.4">3.&#160;&#160;&#160;&#160;命题学习</text></g>
<g id="b3c1" class="b"><rect x="1588" y="2199" width="156" height="47"/><text x="1666" y="2213.4">获得由几个概念构成的命题的复合<tspan x="1666" dy="12.5">意义，实际上是学习表示若干概念</tspan><tspan x="1666" dy="12.5">之间关系的判断</tspan></text></g>
<g id="b3c2" class="b"><rect x="1588" y="2262" width="94" height="22"/><text x="1635" y="2276.4">辨析题，规则，公式</text></g>
<g id="b3c3" class="b"><rect x="1588" y="2300" width="156" height="47"/><text x="1666" y="2314.4">奥苏伯尔根据新旧知识的关系，将<tspan x="1666" dy="12.5">概念学习和命题学习分为三种意义</tspan><tspan x="1666" dy="12.5">获得模式</tspan></text></g>
<g id="b3c4" class="b"><rect x="1588" y="2420" width="89" height="22"/><text x="1632.5" y="2434.4">下位学习/类属学习</text></g>
<g id="b3c4a" class="b"><rect x="1691" y="2363" width="155" height="47"/><text x="1768.5" y="2377.4">旧高新低，先学男人再学小鲜肉；<tspan x="1768.5" dy="12.5">学了油腻男妈宝男认为都是男人（</tspan><tspan x="1768.5" dy="12.5">脑中已有男人概念）</tspan></text></g>
<g id="b3c4b" class="b"><rect x="1691" y="2426" width="155" height="97"/><text x="1768.5" y="2440.4">把新的观念归属于认知结构中原有<tspan x="1768.5" dy="12.5">观念的某一部分，并使之相互联系</tspan><tspan x="1768.5" dy="12.5">的过程包括派生类属学习（列举，</tspan><tspan x="1768.5" dy="12.5">不改变原有本质属性）和相关类属</tspan><tspan x="1768.5" dy="12.5">学习（并列，改变本质属性），两</tspan><tspan x="1768.5" dy="12.5">者的区别在于学习之后原有观念是</tspan><tspan x="1768.5" dy="12.5">否发生本质属性的改变</tspan></text></g>
<g id="b3c5" class="b"><rect x="1588" y="2546" width="89" height="22"/><text x="1632.5" y="2560.4">上位学习/总括学习</text></g>
<g id="b3c5a" class="b"><rect x="1691" y="2539.5" width="155" height="35"/><text x="1768.5" y="2554.15">旧低新高&#160;&#160;去学习更高的概念，先<tspan x="1768.5" dy="12.5">学男人再学人</tspan></text></g>
<g id="b3c6" class="b"><rect x="1588" y="2596" width="108" height="22"/><text x="1642" y="2610.4">并列结合学习/组合学习</text></g>
<g id="b3c6a" class="b"><rect x="1709" y="2589.5" width="156" height="35"/><text x="1787" y="2604.15">先学男人再学女人，既非下位关系<tspan x="1787" dy="12.5">又非上位关系</tspan></text></g>
<g id="b4" class="b"><rect x="1336" y="2659" width="143" height="22"/><text x="1407.5" y="2673.4">（二）陈述性知识的教学原则：</text></g>
<g id="b4a" class="b"><rect x="1492" y="2640" width="71" height="22"/><text x="1527.5" y="2654.4">1．渐进分化；</text></g>
<g id="b4b" class="b"><rect x="1492" y="2678" width="71" height="22"/><text x="1527.5" y="2692.4">2．综合贯通。</text></g>
<g id="b5" class="b"><rect x="1336" y="2850" width="132" height="22"/><text x="1402" y="2864.4">（三）陈述性知识的教学策略</text></g>
<g id="b5a" class="b"><rect x="1483" y="2715" width="156" height="35"/><text x="1561" y="2729.65">1．认知结构优化策略（了解学生<tspan x="1561" dy="12.5">已有的知识系统，能学）</tspan></text></g>
<g id="b5b" class="b"><rect x="1483" y="2766" width="156" height="35"/><text x="1561" y="2780.65">2．动机激发策略（激发学习动机<tspan x="1561" dy="12.5">，培养学习兴趣，愿学）</tspan></text></g>
<g id="b5c" class="b"><rect x="1483" y="2816" width="156" height="47"/><text x="1561" y="2830.4">3．注意维持策略（有效运用注意<tspan x="1561" dy="12.5">规律，维持学习者学习心理状态，</tspan><tspan x="1561" dy="12.5">愿学）</tspan></text></g>
<g id="b5d" class="b"><rect x="1483" y="2879" width="156" height="35"/><text x="1561" y="2893.65">4．精加工策略（对陈述性知识进<tspan x="1561" dy="12.5">行精加工，该学）</tspan></text></g>
<g id="b5d1" class="b"><rect x="1652" y="2885.5" width="85" height="22"/><text x="1694.5" y="2899.9">帮助学生理解知识</text></g>
<g id="b5e" class="b"><rect x="1483" y="2929" width="156" height="35"/><text x="1561" y="2943.65">5.&#160;&#160;&#160;&#160;组织者策略（整理和整合知识<tspan x="1561" dy="12.5">材料，使知识系统化）</tspan></text></g>
<g id="b5e1" class="b"><rect x="1652" y="2935.5" width="104" height="22"/><text x="1704" y="2949.9">体系化，模块化，归类</text></g>
<g id="b5f" class="b"><rect x="1483" y="2979" width="76" height="22"/><text x="1521" y="2993.4">6.&#160;&#160;&#160;&#160;必要的复习</text></g>
<g id="b5f1" class="b"><rect x="1573" y="2979" width="66" height="22"/><text x="1606" y="2993.4">前后知识联系</text></g>
</g>

<g id="watermark" class="wm">
<text x="350" y="695" transform="rotate(-30 350 695)">树图 shutu.cn</text>
<text x="1628" y="688" transform="rotate(-30 1628 688)">树图 shutu.cn</text>
<text x="350" y="1688" transform="rotate(-30 350 1688)">树图 shutu.cn</text>
<text x="1628" y="1688" transform="rotate(-30 1628 1688)">树图 shutu.cn</text>
<text x="350" y="2688" transform="rotate(-30 350 2688)">树图 shutu.cn</text>
<text x="1628" y="2700" transform="rotate(-30 1628 2700)">树图 shutu.cn</text>
</g>
</svg>
